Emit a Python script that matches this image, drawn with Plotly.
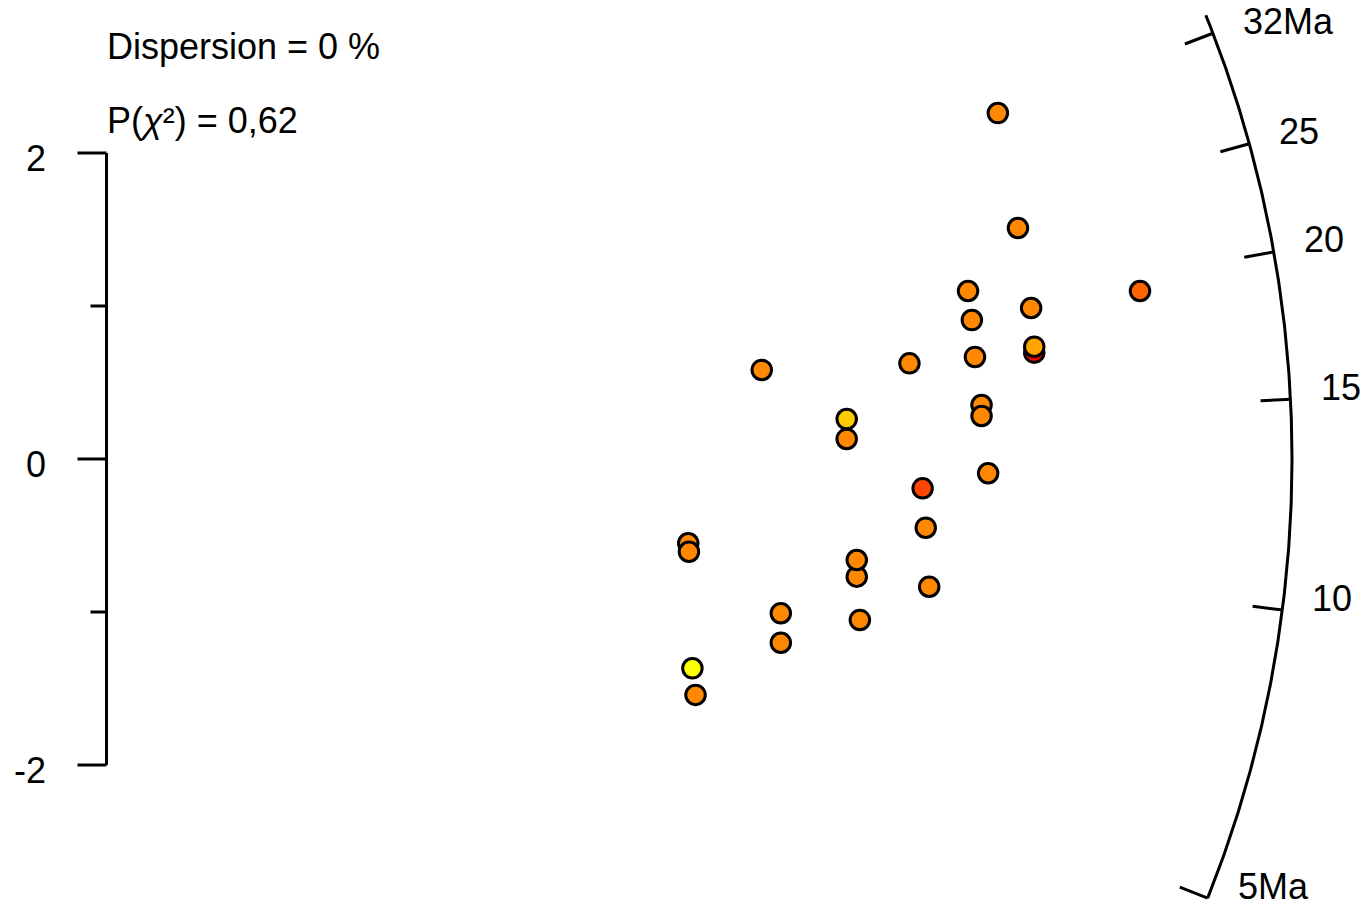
import numpy as np
import plotly.graph_objects as go

# ---------------- data ----------------
# radial-plot coordinates of each grain: precision (1/sigma) and standardised estimate
precision = [2.571, 2.629, 2.485, 2.981, 2.667, 2.496, 2.676, 2.676, 2.505, 1.890,
             2.316, 2.524, 2.524, 2.135, 2.135, 2.543, 2.354, 2.363, 1.678, 1.680,
             2.164, 2.164, 2.373, 1.945, 2.173, 1.945, 1.690, 1.699]
std_estimate = [2.261, 1.510, 1.098, 1.098, 0.987, 0.908, 0.695, 0.734, 0.667, 0.582,
                0.625, 0.353, 0.281, 0.261, 0.131, -0.093, -0.192, -0.449, -0.551, -0.606,
                -0.769, -0.660, -0.835, -1.008, -1.052, -1.201, -1.368, -1.542]
# third variable used for the fill colour (0 = red ... 1 = yellow)
colour_value = [0.533, 0.533, 0.533, 0.392, 0.533, 0.533, 0.0, 0.647, 0.533, 0.533,
                0.533, 0.533, 0.533, 0.800, 0.533, 0.533, 0.271, 0.533, 0.533, 0.533,
                0.533, 0.533, 0.533, 0.533, 0.533, 0.533, 1.0, 0.533]

central_age = 13.38            # Ma, reference age of the radial scale
arc_from_age, arc_to_age = 5.42, 33.4
arc_tick_ages = [5.42, 10, 15, 20, 25, 32]
arc_tick_labels = ["5Ma", "10", "15", "20", "25", "32Ma"]

y_ticks_major = [-2, 0, 2]
y_tick_labels = ["-2", "0", "2"]
y_ticks_minor = [-1, 1]

stat_lines = ["Dispersion = 0 %", "P(<i>χ</i>²) = 0,62"]

# ---------------- layout constants ----------------
W, H = 1372, 906
X_RANGE = [-0.3072, 3.6502]
Y_RANGE = [-2.9216, 3.0]
PX_X = W / (X_RANGE[1] - X_RANGE[0])
PX_Y = H / (Y_RANGE[1] - Y_RANGE[0])
R_PX = 1185.5          # arc radius in pixels
TICK_PX = 30
FONT = dict(family="Liberation Sans, Arial, sans-serif", size=36, color="black")
LW = 3

z0 = np.log(central_age)


def radial_point(age, r_px):
    d = np.log(age) - z0
    vx, vy = PX_X * 1.0, PX_Y * d
    n = np.hypot(vx, vy)
    return r_px * vx / n / PX_X, r_px * vy / n / PX_Y


fig = go.Figure()

# arc
ages = np.exp(np.linspace(np.log(arc_from_age), np.log(arc_to_age), 300))
ax_, ay_ = zip(*[radial_point(a, R_PX) for a in ages])
fig.add_trace(go.Scatter(x=list(ax_), y=list(ay_), mode="lines",
                         line=dict(color="black", width=LW), hoverinfo="skip"))

# arc ticks + labels
annotations = []
for a, lab in zip(arc_tick_ages, arc_tick_labels):
    x1, y1 = radial_point(a, R_PX)
    x0, y0 = radial_point(a, R_PX - TICK_PX)
    fig.add_trace(go.Scatter(x=[x0, x1], y=[y0, y1], mode="lines",
                             line=dict(color="black", width=LW), hoverinfo="skip"))
    annotations.append(dict(x=x1, y=y1, xref="x", yref="y", text=lab, showarrow=False,
                            xanchor="left", yanchor="middle", xshift=28, yshift=12,
                            font=FONT))

# left (standardised estimate) axis
fig.add_trace(go.Scatter(x=[0, 0], y=[y_ticks_major[0], y_ticks_major[-1]], mode="lines",
                         line=dict(color="black", width=LW), hoverinfo="skip"))
for v, lab in zip(y_ticks_major, y_tick_labels):
    fig.add_trace(go.Scatter(x=[-29 / PX_X, 0], y=[v, v], mode="lines",
                             line=dict(color="black", width=LW), hoverinfo="skip"))
    annotations.append(dict(x=0, y=v, xref="x", yref="y", text=lab, showarrow=False,
                            xanchor="right", yanchor="middle", xshift=-59, yshift=-5,
                            font=FONT))
for v in y_ticks_minor:
    fig.add_trace(go.Scatter(x=[-16 / PX_X, 0], y=[v, v], mode="lines",
                             line=dict(color="black", width=LW), hoverinfo="skip"))

# points
fig.add_trace(go.Scatter(
    x=precision, y=std_estimate, mode="markers",
    marker=dict(size=19.5, color=colour_value, cmin=0, cmax=1,
                colorscale=[[0, "#FF0000"], [1, "#FFFF00"]], showscale=False,
                line=dict(color="black", width=3)),
    hoverinfo="skip"))

# statistics text
for i, t in enumerate(stat_lines):
    annotations.append(dict(x=105 / W, y=1 - (46 + 74 * i) / H, xref="paper", yref="paper",
                            text=t, showarrow=False, xanchor="left", yanchor="middle",
                            font=FONT))

fig.update_layout(
    width=W, height=H, margin=dict(l=0, r=0, t=0, b=0),
    paper_bgcolor="white", plot_bgcolor="white", showlegend=False,
    xaxis=dict(range=X_RANGE, visible=False, fixedrange=True),
    yaxis=dict(range=Y_RANGE, visible=False, fixedrange=True),
    annotations=annotations,
)

fig.write_html("out.html",
               config={"displayModeBar": False, "staticPlot": True},
               post_script="document.body.style.margin='0px';"
                           "document.body.style.overflow='hidden';")
